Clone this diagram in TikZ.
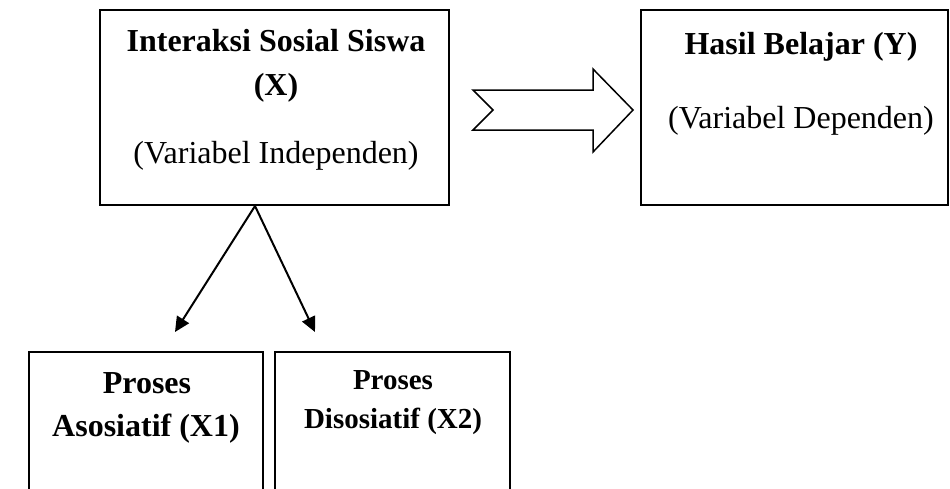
\documentclass[tikz,border=0pt]{standalone}
\usepackage{fontspec}
\setmainfont{Liberation Serif}
\usetikzlibrary{arrows.meta}
\begin{document}
\begin{tikzpicture}[x=1pt,y=-1pt,
  boxstyle/.style={draw=black,line width=2pt,inner sep=0pt},
  lbl/.style={anchor=base,inner sep=0pt,font=\fontsize{32}{38}\selectfont},
  blbl/.style={lbl,font=\fontsize{32}{38}\selectfont\bfseries},
  slbl/.style={lbl,font=\fontsize{29}{35}\selectfont\bfseries},
  conn/.style={line width=2pt,-{Triangle[length=15pt,width=14pt]}}]
\useasboundingbox (0,0) rectangle (950,488);
\clip (0,0) rectangle (950,488);
\fill[white] (0,0) rectangle (950,488);
% boxes
\node[boxstyle,minimum width=349pt,minimum height=195pt] (bx) at (274.5,107.5) {};
\node[boxstyle,minimum width=307pt,minimum height=195pt] (by) at (794.5,107.5) {};
\node[boxstyle,minimum width=234pt,minimum height=160pt] (b1) at (146,432) {};
\node[boxstyle,minimum width=235pt,minimum height=160pt] (b2) at (392.5,432) {};
% texts
\node[blbl] (tx1) at (276,51) {Interaksi Sosial Siswa};
\node[blbl] (tx2) at (276,95) {(X)};
\node[lbl] (tx3) at (276,163) {(Variabel Independen)};
\node[blbl] (ty1) at (801,54) {Hasil Belajar (Y)};
\node[lbl] (ty2) at (801,128) {(Variabel Dependen)};
\node[blbl] (t11) at (147,393) {Proses};
\node[blbl] (t12) at (146,436) {Asosiatif (X1)};
\node[slbl] (t21) at (393,389) {Proses};
\node[slbl] (t22) at (393,428) {Disosiatif (X2)};
% block arrow
\draw[line width=1.5pt,fill=white,line join=miter]
  (473,90) -- (593,90) -- (593,69) -- (633,110) -- (593,152) -- (593,130)
  -- (473,130) -- (493,110) -- cycle;
% connectors
\coordinate (o) at (255,206);
\coordinate (e1) at (175,332);
\coordinate (e2) at (315,332);
\draw[conn] (o) -- (e1);
\draw[conn] (o) -- (e2);
\end{tikzpicture}
\end{document}
